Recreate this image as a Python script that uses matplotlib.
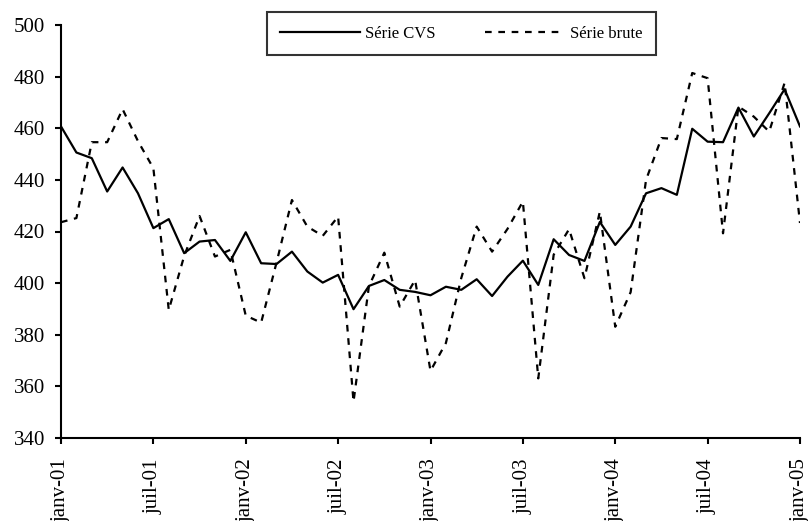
import matplotlib as mpl
import matplotlib.pyplot as plt

# monthly values, janv-01 .. janv-05
serie_cvs = [460.7, 450.6, 448.4, 435.5, 444.8, 434.8, 421.3, 424.8, 411.6, 416.1,
             416.7, 408.6, 419.7, 407.7, 407.4, 412.2, 404.5, 400.2, 403.2, 389.9,
             398.9, 401.2, 397.4, 396.6, 395.3, 398.6, 397.4, 401.5, 395.0, 402.5,
             408.7, 399.3, 417.0, 410.9, 408.6, 423.7, 414.8, 421.9, 434.8, 436.8,
             434.2, 459.8, 454.8, 454.6, 468.0, 456.8, 465.8, 475.1, 460.7]
serie_brute = [423.6, 425.2, 454.6, 454.6, 467.4, 455.0, 444.5, 389.6, 410.5, 426.0,
               410.3, 412.9, 387.4, 384.7, 408.0, 432.2, 421.9, 418.3, 425.8, 354.1,
               398.8, 411.8, 390.9, 401.2, 366.0, 376.8, 402.0, 421.9, 412.2, 421.0,
               431.6, 363.1, 411.0, 420.9, 401.9, 427.7, 383.1, 396.5, 440.0, 456.2,
               455.8, 481.4, 479.4, 419.3, 468.4, 464.5, 458.7, 477.6, 423.3]
tick_pos = [0, 6, 12, 18, 24, 30, 36, 42, 48]
tick_labels = ['janv-01', 'juil-01', 'janv-02', 'juil-02', 'janv-03',
               'juil-03', 'janv-04', 'juil-04', 'janv-05']

dpi = 100
fig = plt.figure(dpi=dpi, figsize=(809 / dpi, 521 / dpi))
mpl.rcParams.update({'font.family': 'Liberation Serif', 'font.size': 15})

ax = fig.add_axes([61 / 809, 1 - 438 / 521, (800 - 61) / 809, (438 - 25) / 521])
months = range(len(serie_cvs))

ax.plot(months, serie_cvs, color='black', lw=1.6, label='Série CVS')
ax.plot(months, serie_brute, color='black', lw=1.6, linestyle=(0, (3, 3)),
        label='Série brute')

ax.set_xlim(0, 48)
ax.set_ylim(340, 500)
ax.set_yticks(range(340, 501, 20))
ax.set_xticks(tick_pos)
ax.set_xticklabels(tick_labels, rotation=90, va='top', ha='center')

for s in ['top', 'right']:
    ax.spines[s].set_visible(False)
for s in ['left', 'bottom']:
    ax.spines[s].set_linewidth(1.5)
ax.tick_params(direction='out', length=4.5, width=1.5)
ax.tick_params(axis='x', pad=10)
ax.tick_params(axis='y', pad=7)

leg = fig.legend(loc='center', bbox_to_anchor=(461.5 / 809, 1 - 33.5 / 521),
                 ncol=2, fontsize=12, frameon=True, fancybox=False,
                 edgecolor='black', handlelength=4.8, handletextpad=0.3,
                 columnspacing=3.0, borderpad=0.8)
leg.get_frame().set_linewidth(1.5)

fig.savefig('out.png', dpi=dpi)
